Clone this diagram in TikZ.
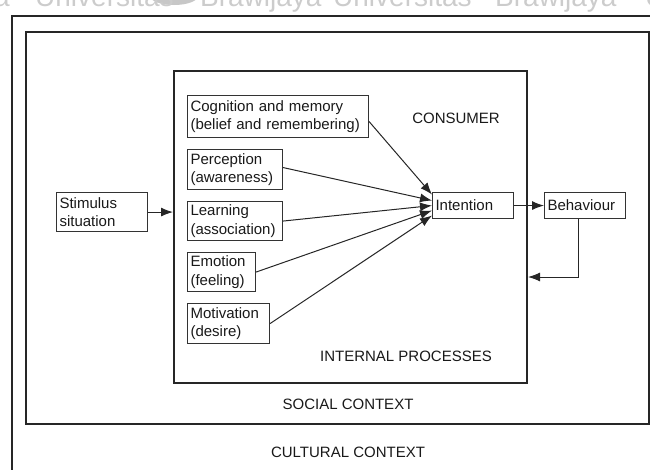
\documentclass[tikz,border=0pt]{standalone}
\usepackage{fontspec}
\setmainfont{Liberation Sans}
\usetikzlibrary{arrows.meta}
\begin{document}
\begin{tikzpicture}[x=1pt,y=-1pt,
  txt/.style={font=\fontsize{15}{18.5}\selectfont, text=black!90},
  frame/.style={draw=black!85, line width=2pt, anchor=north west, inner sep=0pt},
  procbox/.style={draw=black!80, line width=1.1pt, anchor=north west,
    inner xsep=3pt, inner ysep=0pt, align=left, txt},
  arr/.style={line width=1pt, draw=black!85, -{Latex[length=12pt,width=9pt]}},
  wm/.style={font=\fontsize{28}{28}\selectfont, text=black!20,
    anchor=base west, inner sep=0pt}]
\useasboundingbox (0,0) rectangle (650,469);
\clip (0,0) rectangle (650,469);

% faint header watermark along the top edge
\fill[black!22] (174,-4) ellipse (24pt and 9pt);
\node[wm, anchor=base east] (wa) at (10,6.5) {a};
\node[wm] (wu1) at (35,6.5) {Universitas};
\node[wm] (wb1) at (200,6.5) {Brawijaya};
\node[wm] (wu2) at (333,6.5) {Universitas};
\node[wm] (wb2) at (495,6.5) {Brawijaya};
\node[wm] (wu3) at (645,6.5) {U};

% nested context frames
\node[frame, minimum width=700pt, minimum height=500pt] (cultural) at (11,15) {};
\node[frame, minimum width=623pt, minimum height=392pt] (social) at (25,31) {};
\node[frame, minimum width=353pt, minimum height=312pt] (consumer) at (173,70) {};

% frame labels
\node[txt, anchor=base] (lconsumer) at (456,123) {CONSUMER};
\node[txt, anchor=base] (linternal) at (406,361) {INTERNAL PROCESSES};
\node[txt, anchor=base] (lsocial) at (348,409) {SOCIAL CONTEXT};
\node[txt, anchor=base] (lcultural) at (348,457) {CULTURAL CONTEXT};

% process boxes
\node[procbox, text width=175pt, minimum height=42pt] (cog) at (187,95)
  {Cognition and memory\\(belief and remembering)};
\node[procbox, text width=89pt, minimum height=40pt] (per) at (187,149)
  {Perception\\(awareness)};
\node[procbox, text width=89pt, minimum height=39pt] (lea) at (187,201)
  {Learning\\(association)};
\node[procbox, text width=62pt, minimum height=39pt] (emo) at (187,252)
  {Emotion\\(feeling)};
\node[procbox, text width=76pt, minimum height=40pt] (mot) at (187,303)
  {Motivation\\(desire)};

\node[procbox, text width=85pt, minimum height=39pt] (stim) at (56,192)
  {Stimulus\\situation};
\node[procbox, text width=75pt, minimum height=26pt] (int) at (432,192)
  {Intention};
\node[procbox, text width=75pt, minimum height=26pt] (beh) at (544,192)
  {Behaviour};

% connectors
\draw[arr] (stim.east) -- (stim.east -| consumer.west);
\draw[arr] ([yshift=-5pt]cog.east) -- ([yshift=11pt]int.west);
\draw[arr] ([yshift=2pt]per.east) -- ([yshift=5pt]int.west);
\draw[arr] (lea.east) -- ([yshift=0pt]int.west);
\draw[arr] (emo.east) -- ([yshift=-5pt]int.west);
\draw[arr] (mot.east) -- ([yshift=-10pt]int.west);
\draw[arr] (int.east) -- (beh.west);
\draw[arr] ([xshift=-7pt]beh.south) |- ([yshift=-50pt]consumer.east);
\end{tikzpicture}
\end{document}
